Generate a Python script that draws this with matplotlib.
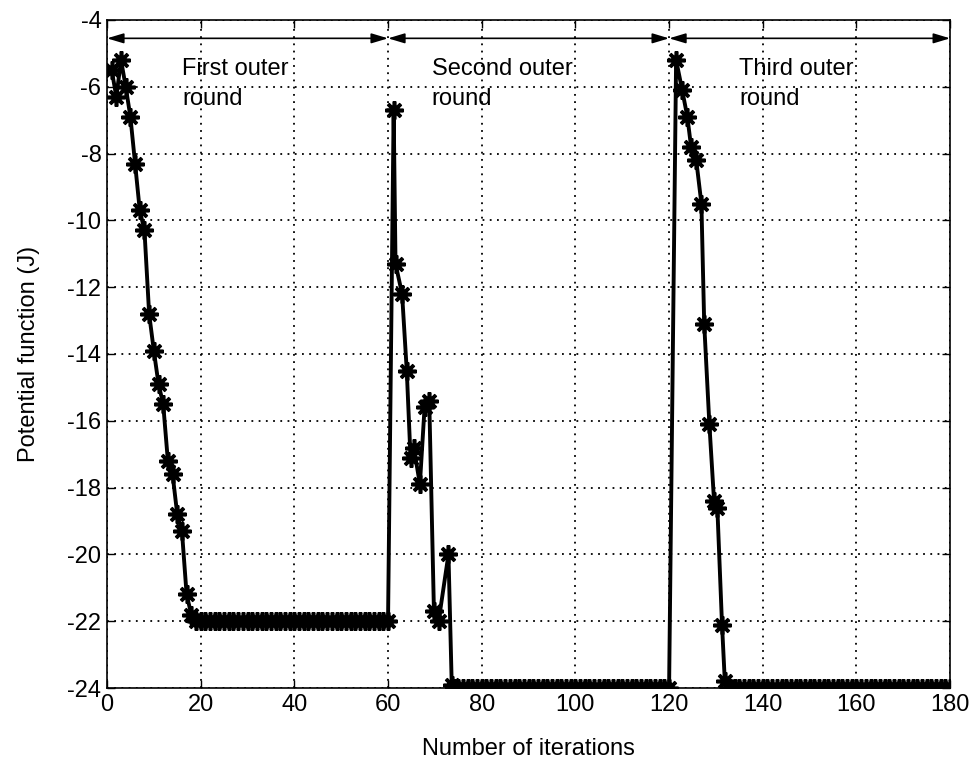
import numpy as np
import matplotlib
matplotlib.use("Agg")
import matplotlib.pyplot as plt

plt.rcParams['font.family'] = ['Liberation Sans', 'DejaVu Sans']
plt.rcParams['axes.unicode_minus'] = False

# Round 1 (iterations 1..60)
r1_x = [1, 2, 3, 4, 5, 6, 7, 8, 9, 10, 11, 12, 13, 14, 15, 16, 17, 18] + list(range(19, 61))
r1_y = [-5.5, -6.3, -5.2, -6.0, -6.9, -8.3, -9.7, -10.3, -12.8, -13.9, -14.9, -15.5,
        -17.2, -17.6, -18.8, -19.3, -21.2, -21.8] + [-22.0] * 42

# Round 2 (iterations 61..120)
r2_x = [61.2, 61.6, 63.0, 64.0, 64.8, 65.5, 66.8, 67.8, 68.8, 69.8, 70.8, 72.9, 73.6] + list(range(74, 121))
r2_y = [-6.7, -11.3, -12.2, -14.5, -17.1, -16.8, -17.9, -15.6, -15.4, -21.7, -22.0, -20.0, -23.9] + [-24.0] * 47

# Round 3 (iterations 121..180)
r3_x = [121.5, 122.8, 123.9, 124.7, 125.8, 126.9, 127.5, 128.6, 129.6, 130.3, 131.3, 131.9] + list(range(133, 181))
r3_y = [-5.2, -6.1, -6.9, -7.8, -8.2, -9.5, -13.1, -16.1, -18.4, -18.6, -22.1, -23.8] + [-24.0] * 48

x = r1_x + r2_x + r3_x
y = r1_y + r2_y + r3_y

round_bounds = [0, 60, 120, 180]
round_labels = ["First outer\nround", "Second outer\nround", "Third outer\nround"]
label_x = [16, 69.3, 135]

xticks = list(range(0, 181, 20))
yticks = list(range(-24, -3, 2))

fig = plt.figure(figsize=(9.77, 7.62), dpi=100)
ax = fig.add_axes([0.1095, 0.0971, 0.863, 0.8767])

ax.plot(x, y, color='black', linewidth=2.8, marker=(8, 2, 0), markersize=13,
        markeredgewidth=2.6, markeredgecolor='black', zorder=3)

ax.set_xlim(0, 180)
ax.set_ylim(-24, -4)
ax.set_xticks(xticks)
ax.set_yticks(yticks)
ax.tick_params(direction='in', length=6, width=1, labelsize=17, top=True, right=True, pad=4)
ax.grid(True, linestyle=(0, (1, 3)), color='black', linewidth=1.3)
for s in ax.spines.values():
    s.set_linewidth(1.2)

ax.set_xlabel("Number of iterations", fontsize=17, labelpad=16)
ax.set_ylabel("Potential function (J)", fontsize=17, labelpad=20)

for i in range(3):
    ax.annotate("", xy=(round_bounds[i], -4.55), xytext=(round_bounds[i + 1], -4.55),
                arrowprops=dict(arrowstyle='<|-|>,head_length=1.0,head_width=0.3',
                                color='black', lw=1.2, shrinkA=0, shrinkB=0))
    ax.text(label_x[i], -5.15, round_labels[i], fontsize=17, ha='left', va='top',
            linespacing=1.45)

fig.savefig("out.png", dpi=100)
